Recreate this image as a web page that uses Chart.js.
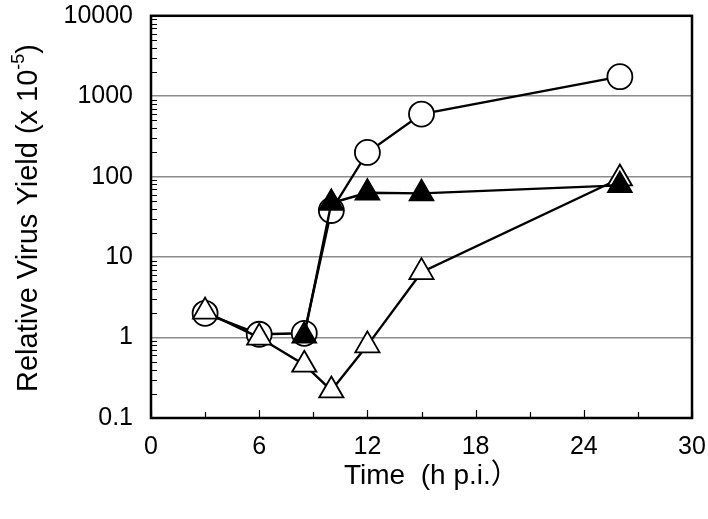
<!DOCTYPE html>
<html>
<head>
<meta charset="utf-8">
<script src="https://cdn.jsdelivr.net/npm/chart.js@4"></script>
<style>
  html, body { margin: 0; padding: 0; background: #fff; }
  #wrap { width: 708px; height: 519px; }
</style>
</head>
<body>
<div id="wrap"><canvas id="yieldChart"></canvas></div>
<script>
const circleHours = [3, 6, 8.5, 10, 12, 15, 26];
const circleYield = [2.0, 1.1, 1.13, 38, 200, 600, 1750];
const openTriHours = [3, 6, 8.5, 10, 12, 15, 26];
const openTriYield = [2.1, 1.0, 0.46, 0.22, 0.8, 6.5, 95];
const filledTriHours = [8.5, 10, 12, 15, 26];
const filledTriYield = [1.05, 47, 63, 62, 78];

const xTicks = [0, 6, 12, 18, 24, 30];
const xMinorTicks = [3, 9, 15, 21, 27];
const yTicks = [0.1, 1, 10, 100, 1000, 10000];
const yTickLabels = ["0.1", "1", "10", "100", "1000", "10000"];

const xTitle = "Time  (h p.i.\uFF09";
const yTitle = "Relative Virus Yield (x 10";
const yTitleSup = "-5";
const yTitleEnd = ")";

const FONT = "'Liberation Sans', Arial, 'Noto Sans CJK JP', sans-serif";

function toPoints(xs, ys) {
  return xs.map((x, i) => ({ x, y: ys[i] }));
}

// frame, inward ticks and axis titles
const framePlugin = {
  id: "frame",
  afterDraw(chart) {
    const { ctx, chartArea: a, scales } = chart;
    const x = scales.x;
    const y = scales.y;
    ctx.save();
    ctx.strokeStyle = "#000";
    ctx.lineWidth = 1.2;
    ctx.beginPath();
    for (let i = 0; i < yTicks.length - 1; i++) {
      for (let k = 2; k < 10; k++) {
        const py = Math.round(y.getPixelForValue(yTicks[i] * k)) + 0.5;
        ctx.moveTo(a.left, py);
        ctx.lineTo(a.left + 6, py);
      }
    }
    xTicks.forEach((v) => {
      const px = Math.round(x.getPixelForValue(v)) + 0.5;
      ctx.moveTo(px, a.bottom);
      ctx.lineTo(px, a.bottom - 8);
    });
    xMinorTicks.forEach((v) => {
      const px = Math.round(x.getPixelForValue(v)) + 0.5;
      ctx.moveTo(px, a.bottom);
      ctx.lineTo(px, a.bottom - 6);
    });
    ctx.stroke();

    ctx.lineWidth = 2.5;
    ctx.strokeRect(a.left, a.top, a.right - a.left, a.bottom - a.top);

    ctx.fillStyle = "#000";
    ctx.textBaseline = "alphabetic";
    ctx.textAlign = "left";
    ctx.font = "28px " + FONT;
    ctx.fillText(xTitle, 344, 484);

    ctx.translate(29, 218);
    ctx.rotate(-Math.PI / 2);
    ctx.textBaseline = "middle";
    ctx.font = "29px " + FONT;
    const w1 = ctx.measureText(yTitle).width;
    const w3 = ctx.measureText(yTitleEnd).width;
    ctx.font = "18px " + FONT;
    const w2 = ctx.measureText(yTitleSup).width;
    let sx = -(w1 + w2 + w3) / 2;
    ctx.font = "29px " + FONT;
    ctx.fillText(yTitle, sx, 0);
    sx += w1;
    ctx.font = "18px " + FONT;
    ctx.fillText(yTitleSup, sx, -10);
    sx += w2;
    ctx.font = "29px " + FONT;
    ctx.fillText(yTitleEnd, sx, 0);
    ctx.restore();
  },
};

const canvas = document.getElementById("yieldChart");

new Chart(canvas, {
  type: "line",
  data: {
    datasets: [
      {
        label: "filled triangles",
        data: toPoints(filledTriHours, filledTriYield),
        order: 1,
        borderColor: "#000",
        borderWidth: 2.4,
        pointStyle: "triangle",
        pointRadius: 14,
        pointBorderWidth: 1.5,
        pointBackgroundColor: "#000",
        pointBorderColor: "#000",
      },
      {
        label: "open triangles",
        data: toPoints(openTriHours, openTriYield),
        order: 2,
        borderColor: "#000",
        borderWidth: 2.4,
        pointStyle: "triangle",
        pointRadius: 14,
        pointBorderWidth: 1.8,
        pointBackgroundColor: "#fff",
        pointBorderColor: "#000",
      },
      {
        label: "open circles",
        data: toPoints(circleHours, circleYield),
        order: 3,
        borderColor: "#000",
        borderWidth: 2.4,
        pointStyle: "circle",
        pointRadius: 12.5,
        pointBorderWidth: 1.8,
        pointBackgroundColor: "#fff",
        pointBorderColor: "#000",
      },
    ],
  },
  options: {
    responsive: true,
    maintainAspectRatio: false,
    animation: false,
    devicePixelRatio: 1,
    layout: { padding: { top: 12, right: 16, left: 0, bottom: 0 } },
    elements: { line: { tension: 0 } },
    scales: {
      x: {
        type: "linear",
        min: 0,
        max: 30,
        afterFit: (s) => {
          s.height = 101;
          s.paddingLeft = 0;
          s.paddingRight = 0;
        },
        afterBuildTicks: (s) => { s.ticks = xTicks.map((v) => ({ value: v })); },
        grid: { display: false, drawTicks: false },
        border: { display: false },
        ticks: {
          padding: 14,
          color: "#000",
          font: { family: FONT, size: 25 },
          maxRotation: 0,
        },
      },
      y: {
        type: "logarithmic",
        min: 0.1,
        max: 10000,
        afterFit: (s) => {
          s.width = 151;
          s.paddingTop = 0;
          s.paddingBottom = 0;
        },
        afterBuildTicks: (s) => { s.ticks = yTicks.map((v) => ({ value: v })); },
        grid: {
          drawTicks: false,
          lineWidth: 1.5,
          color: (c) => (c.index === 0 || c.index === yTicks.length - 1 ? "rgba(0,0,0,0)" : "#8c8c8c"),
        },
        border: { display: false },
        ticks: {
          padding: 18,
          color: "#000",
          font: { family: FONT, size: 25 },
          callback: (v, i) => yTickLabels[i],
        },
      },
    },
    plugins: {
      legend: { display: false },
      tooltip: { enabled: false },
    },
  },
  plugins: [framePlugin],
});
</script>
</body>
</html>
